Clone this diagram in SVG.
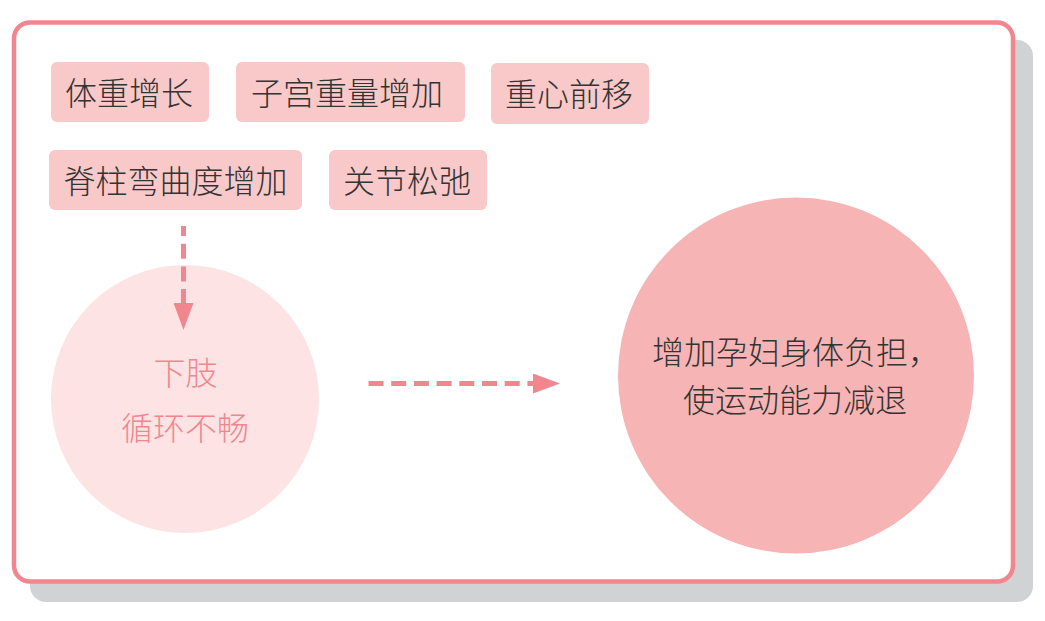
<svg xmlns="http://www.w3.org/2000/svg" width="1045" height="621" viewBox="0 0 1045 621">
  <style>
    .box { fill: #f9c9ca; }
    .lbl { font-family: "Noto Sans CJK SC", "Noto Sans", sans-serif; font-size: 32px; font-weight: 300; fill: #333333; text-anchor: middle; }
    .lblL { font-family: "Noto Sans CJK SC", "Noto Sans", sans-serif; font-size: 32px; font-weight: 300; fill: #333333; }
    .pink { font-family: "Noto Sans CJK SC", "Noto Sans", sans-serif; font-size: 32px; font-weight: 300; fill: #f0878f; text-anchor: middle; }
    .conn { fill: none; stroke: #f2868f; stroke-width: 5; stroke-dasharray: 15 7.7; }
  </style>
  <defs>
    <marker id="head" markerUnits="userSpaceOnUse" markerWidth="27" markerHeight="20" refX="0" refY="10" orient="auto" viewBox="0 0 27 20">
      <path d="M0,0 L27,10 L0,20 Z" fill="#f2868f"/>
    </marker>
  </defs>

  <g id="frame">
    <rect x="30" y="40" width="1003" height="562" rx="16" fill="#d1d2d4"/>
    <rect x="14" y="22.5" width="999" height="559" rx="16" fill="#ffffff" stroke="#f2868f" stroke-width="4.5"/>
  </g>

  <g id="node-tizhong">
    <rect class="box" x="51" y="62" width="158" height="60" rx="6"/>
    <text class="lbl" x="129" y="104.5">体重增长</text>
  </g>
  <g id="node-zigong">
    <rect class="box" x="236" y="62" width="229" height="60" rx="6"/>
    <text class="lbl" x="347" y="104.5">子宫重量增加</text>
  </g>
  <g id="node-zhongxin">
    <rect class="box" x="491" y="63" width="158" height="61" rx="6"/>
    <text class="lbl" x="569" y="105.5">重心前移</text>
  </g>
  <g id="node-jizhu">
    <rect class="box" x="49" y="150" width="253" height="60" rx="6"/>
    <text class="lbl" x="175.5" y="192.5">脊柱弯曲度增加</text>
  </g>
  <g id="node-guanjie">
    <rect class="box" x="329" y="150" width="158" height="60" rx="6"/>
    <text class="lbl" x="407" y="192.5">关节松弛</text>
  </g>

  <g id="node-xiazhi">
    <circle cx="185" cy="399" r="134" fill="#fde3e3"/>
    <text class="pink" x="185.5" y="384.5">下肢</text>
    <text class="pink" x="185" y="439.5">循环不畅</text>
  </g>

  <g id="node-result">
    <circle cx="796" cy="375.5" r="178" fill="#f7b4b5"/>
    <text class="lblL" x="652" y="364">增加孕妇身体负担，</text>
    <text class="lblL" x="683" y="411.5">使运动能力减退</text>
  </g>

  <g id="connectors">
    <line class="conn" x1="183.5" y1="226" x2="183.5" y2="303" stroke-dashoffset="5" marker-end="url(#head)"/>
    <line class="conn" x1="368.5" y1="383.5" x2="533" y2="383.5" marker-end="url(#head)"/>
  </g>
</svg>
